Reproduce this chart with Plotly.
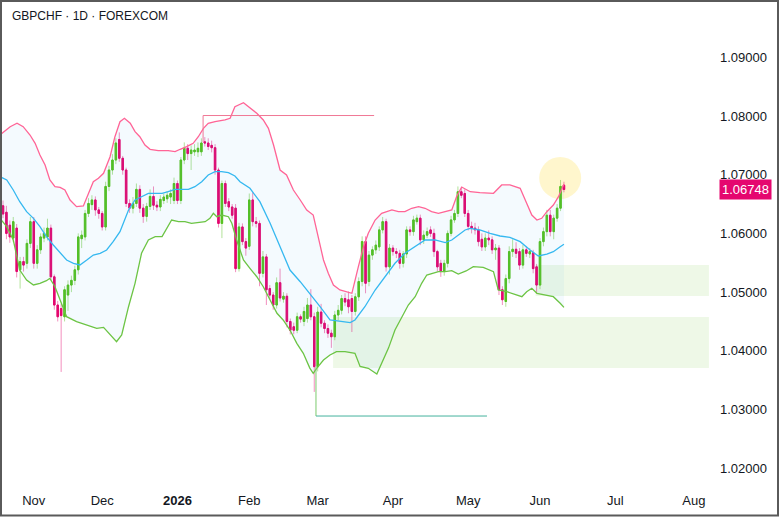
import pandas as pd
import plotly.graph_objects as go

# ---------------- data (daily OHLC, GBPCHF) ----------------
open_ = [
    1.0647, 1.0636, 1.0614, 1.0592, 1.0609, 1.0538, 1.0552, 1.0549, 1.0583, 1.0620,
    1.0549, 1.0572, 1.0592, 1.0594, 1.0609, 1.0526, 1.0478, 1.0472, 1.0458, 1.0495,
    1.0512, 1.0520, 1.0538, 1.0591, 1.0594, 1.0634, 1.0649, 1.0657, 1.0640, 1.0634,
    1.0611, 1.0680, 1.0708, 1.0725, 1.0760, 1.0728, 1.0708, 1.0651, 1.0643, 1.0651,
    1.0675, 1.0643, 1.0629, 1.0646, 1.0663, 1.0648, 1.0645, 1.0656, 1.0659, 1.0662,
    1.0656, 1.0685, 1.0656, 1.0725, 1.0745, 1.0736, 1.0739, 1.0739, 1.0739, 1.0756,
    1.0754, 1.0750, 1.0746, 1.0708, 1.0617, 1.0685, 1.0654, 1.0645, 1.0643, 1.0540,
    1.0611, 1.0586, 1.0578, 1.0657, 1.0620, 1.0617, 1.0532, 1.0560, 1.0506, 1.0495,
    1.0478, 1.0516, 1.0488, 1.0493, 1.0450, 1.0441, 1.0435, 1.0458, 1.0450, 1.0455,
    1.0478, 1.0458, 1.0373, 1.0466, 1.0447, 1.0438, 1.0430, 1.0424, 1.0461, 1.0469,
    1.0489, 1.0487, 1.0489, 1.0467, 1.0492, 1.0518, 1.0586, 1.0518, 1.0563, 1.0572,
    1.0577, 1.0606, 1.0620, 1.0543, 1.0575, 1.0569, 1.0566, 1.0549, 1.0565, 1.0606,
    1.0603, 1.0620, 1.0626, 1.0589, 1.0597, 1.0606, 1.0600, 1.0569, 1.0549, 1.0535,
    1.0549, 1.0600, 1.0623, 1.0634, 1.0671, 1.0668, 1.0634, 1.0612, 1.0609, 1.0606,
    1.0590, 1.0577, 1.0592, 1.0589, 1.0572, 1.0575, 1.0504, 1.0484, 1.0523, 1.0569,
    1.0573, 1.0569, 1.0546, 1.0572, 1.0565, 1.0567, 1.0543, 1.0512, 1.0586, 1.0603,
    1.0631, 1.0603, 1.0626, 1.0643, 1.0682,
]
high = [
    1.0656, 1.0647, 1.0622, 1.0628, 1.0616, 1.0560, 1.0560, 1.0590, 1.0628, 1.0628,
    1.0580, 1.0600, 1.0610, 1.0625, 1.0615, 1.0530, 1.0485, 1.0480, 1.0510, 1.0520,
    1.0528, 1.0545, 1.0600, 1.0605, 1.0640, 1.0660, 1.0665, 1.0663, 1.0645, 1.0638,
    1.0688, 1.0715, 1.0735, 1.0762, 1.0772, 1.0732, 1.0712, 1.0658, 1.0662, 1.0685,
    1.0682, 1.0650, 1.0652, 1.0675, 1.0680, 1.0655, 1.0665, 1.0668, 1.0672, 1.0675,
    1.0695, 1.0690, 1.0730, 1.0755, 1.0752, 1.0750, 1.0752, 1.0755, 1.0762, 1.0764,
    1.0762, 1.0758, 1.0752, 1.0712, 1.0690, 1.0690, 1.0660, 1.0650, 1.0650, 1.0618,
    1.0617, 1.0592, 1.0668, 1.0670, 1.0628, 1.0622, 1.0570, 1.0565, 1.0512, 1.0500,
    1.0525, 1.0540, 1.0500, 1.0498, 1.0455, 1.0448, 1.0465, 1.0462, 1.0475, 1.0490,
    1.0505, 1.0465, 1.0475, 1.0480, 1.0452, 1.0445, 1.0436, 1.0468, 1.0478, 1.0495,
    1.0498, 1.0501, 1.0495, 1.0498, 1.0525, 1.0595, 1.0595, 1.0570, 1.0578, 1.0588,
    1.0612, 1.0628, 1.0625, 1.0582, 1.0580, 1.0575, 1.0572, 1.0570, 1.0612, 1.0612,
    1.0630, 1.0632, 1.0632, 1.0605, 1.0610, 1.0612, 1.0608, 1.0572, 1.0555, 1.0555,
    1.0605, 1.0630, 1.0640, 1.0680, 1.0678, 1.0675, 1.0640, 1.0620, 1.0618, 1.0612,
    1.0600, 1.0600, 1.0605, 1.0595, 1.0582, 1.0580, 1.0510, 1.0530, 1.0578, 1.0590,
    1.0585, 1.0575, 1.0580, 1.0578, 1.0575, 1.0572, 1.0548, 1.0592, 1.0610, 1.0640,
    1.0640, 1.0632, 1.0650, 1.0691, 1.0688,
]
low = [
    1.0626, 1.0590, 1.0584, 1.0585, 1.0525, 1.0506, 1.0535, 1.0540, 1.0575, 1.0540,
    1.0540, 1.0565, 1.0585, 1.0588, 1.0520, 1.0470, 1.0450, 1.0364, 1.0450, 1.0468,
    1.0500, 1.0512, 1.0530, 1.0575, 1.0588, 1.0628, 1.0640, 1.0630, 1.0625, 1.0605,
    1.0605, 1.0672, 1.0700, 1.0718, 1.0722, 1.0700, 1.0645, 1.0635, 1.0634, 1.0645,
    1.0635, 1.0618, 1.0620, 1.0640, 1.0640, 1.0638, 1.0638, 1.0650, 1.0652, 1.0650,
    1.0650, 1.0650, 1.0650, 1.0718, 1.0725, 1.0708, 1.0732, 1.0730, 1.0732, 1.0748,
    1.0742, 1.0738, 1.0700, 1.0610, 1.0592, 1.0645, 1.0638, 1.0625, 1.0534, 1.0535,
    1.0580, 1.0562, 1.0572, 1.0612, 1.0610, 1.0510, 1.0525, 1.0478, 1.0488, 1.0470,
    1.0472, 1.0484, 1.0482, 1.0440, 1.0428, 1.0428, 1.0430, 1.0448, 1.0442, 1.0448,
    1.0452, 1.0330, 1.0365, 1.0440, 1.0430, 1.0422, 1.0405, 1.0418, 1.0452, 1.0462,
    1.0476, 1.0464, 1.0432, 1.0460, 1.0485, 1.0510, 1.0498, 1.0510, 1.0555, 1.0565,
    1.0570, 1.0600, 1.0535, 1.0530, 1.0562, 1.0558, 1.0540, 1.0542, 1.0558, 1.0596,
    1.0596, 1.0615, 1.0580, 1.0582, 1.0592, 1.0594, 1.0560, 1.0535, 1.0526, 1.0528,
    1.0542, 1.0595, 1.0618, 1.0628, 1.0660, 1.0628, 1.0605, 1.0600, 1.0598, 1.0578,
    1.0570, 1.0570, 1.0580, 1.0565, 1.0555, 1.0495, 1.0478, 1.0475, 1.0515, 1.0560,
    1.0558, 1.0538, 1.0540, 1.0560, 1.0558, 1.0532, 1.0498, 1.0505, 1.0578, 1.0595,
    1.0595, 1.0590, 1.0620, 1.0638, 1.0670,
]
close = [
    1.0633, 1.0600, 1.0594, 1.0620, 1.0535, 1.0552, 1.0546, 1.0583, 1.0620, 1.0549,
    1.0572, 1.0594, 1.0600, 1.0609, 1.0526, 1.0478, 1.0458, 1.0460, 1.0504, 1.0512,
    1.0520, 1.0538, 1.0594, 1.0597, 1.0634, 1.0651, 1.0657, 1.0640, 1.0634, 1.0611,
    1.0680, 1.0708, 1.0725, 1.0754, 1.0728, 1.0708, 1.0651, 1.0643, 1.0651, 1.0675,
    1.0643, 1.0629, 1.0646, 1.0663, 1.0648, 1.0645, 1.0658, 1.0662, 1.0665, 1.0668,
    1.0685, 1.0656, 1.0725, 1.0745, 1.0736, 1.0742, 1.0742, 1.0745, 1.0754, 1.0754,
    1.0748, 1.0746, 1.0708, 1.0617, 1.0685, 1.0651, 1.0645, 1.0631, 1.0540, 1.0611,
    1.0586, 1.0575, 1.0657, 1.0620, 1.0617, 1.0532, 1.0560, 1.0504, 1.0495, 1.0478,
    1.0516, 1.0490, 1.0493, 1.0450, 1.0435, 1.0435, 1.0458, 1.0454, 1.0467, 1.0478,
    1.0458, 1.0373, 1.0466, 1.0447, 1.0438, 1.0430, 1.0424, 1.0461, 1.0469, 1.0489,
    1.0483, 1.0475, 1.0467, 1.0492, 1.0518, 1.0586, 1.0515, 1.0563, 1.0572, 1.0580,
    1.0606, 1.0620, 1.0543, 1.0575, 1.0569, 1.0566, 1.0549, 1.0565, 1.0606, 1.0603,
    1.0623, 1.0626, 1.0589, 1.0597, 1.0603, 1.0600, 1.0569, 1.0543, 1.0535, 1.0549,
    1.0600, 1.0623, 1.0634, 1.0671, 1.0665, 1.0634, 1.0612, 1.0609, 1.0606, 1.0586,
    1.0577, 1.0592, 1.0589, 1.0572, 1.0575, 1.0504, 1.0487, 1.0523, 1.0569, 1.0573,
    1.0566, 1.0546, 1.0572, 1.0566, 1.0569, 1.0540, 1.0512, 1.0586, 1.0603, 1.0631,
    1.0603, 1.0626, 1.0643, 1.0680, 1.06748,
]

# Bollinger bands, sampled (bar number, price)
upper_bar = [-0.9, 2.1, 4.1, 5.9, 7.9, 9.4, 10.8, 12.3, 13.7, 15.2, 16.7, 18.1, 19.6, 21.5, 23.5,
             24.9, 26.4, 27.9, 29.4, 31.3, 32.7, 34.2, 35.5, 37.2, 38.6, 40.0, 41.5, 43.0, 45.4,
             48.3, 50.3, 51.8, 53.7, 55.6, 57.1, 58.6, 60.0, 62.0, 64.9, 66.4, 67.8, 70.3, 72.2,
             74.2, 76.1, 77.6, 79.1, 81.0, 82.9, 84.9, 86.9, 88.8, 90.7, 92.2, 93.7, 95.1, 96.6,
             98.5, 100.0, 102.0, 103.9, 105.4, 106.8, 108.8, 110.7, 113.7, 115.6, 117.5, 119.5,
             121.5, 123.4, 125.3, 127.3, 129.3, 131.2, 132.6, 134.1, 136.6, 139.4, 143.4, 145.8,
             148.2, 151.2, 153.1, 154.6, 156.1, 157.5, 159.0, 160.9, 162.4, 163.4, 164.0]
upper_val = [1.07676, 1.07818, 1.07876, 1.07818, 1.07676, 1.07535, 1.07336, 1.07165, 1.06910,
             1.06796, 1.06785, 1.06739, 1.06569, 1.06455, 1.06467, 1.06683, 1.06881, 1.06939,
             1.07024, 1.07307, 1.07642, 1.07903, 1.07961, 1.07876, 1.07733, 1.07647, 1.07506,
             1.07433, 1.07409, 1.07409, 1.07392, 1.07433, 1.07477, 1.07535, 1.07647, 1.07790,
             1.07876, 1.07903, 1.07932, 1.07961, 1.08158, 1.08227, 1.08131, 1.08046, 1.07932,
             1.07790, 1.07506, 1.07080, 1.06995, 1.06739, 1.06569, 1.06399, 1.06313, 1.05944,
             1.05547, 1.05320, 1.05121, 1.05036, 1.05007, 1.04980, 1.05433, 1.05773, 1.06002,
             1.06228, 1.06342, 1.06399, 1.06370, 1.06370, 1.06428, 1.06455, 1.06428, 1.06370,
             1.06342, 1.06370, 1.06399, 1.06625, 1.06790, 1.06710, 1.06693, 1.06683, 1.06825,
             1.06825, 1.06768, 1.06513, 1.06313, 1.06228, 1.06257, 1.06370, 1.06484, 1.06625,
             1.06768, 1.06840]
middle_bar = [-0.9, 1.1, 3.0, 4.9, 6.9, 8.9, 10.8, 12.7, 14.7, 16.7, 18.6, 20.6, 22.5, 24.5, 26.4,
              28.4, 30.3, 32.2, 34.2, 36.7, 38.6, 40.5, 42.5, 44.5, 46.5, 48.3, 50.3, 52.3, 54.2,
              56.1, 58.1, 60.0, 62.0, 63.9, 65.9, 67.8, 69.3, 72.2, 75.1, 78.1, 81.0, 83.9, 86.9,
              89.7, 92.7, 95.6, 98.5, 101.5, 102.9, 105.8, 108.8, 111.7, 114.6, 117.5, 120.5,
              123.4, 126.3, 129.3, 131.2, 133.1, 135.1, 136.6, 139.4, 142.4, 145.3, 148.2, 151.2,
              154.1, 156.5, 159.0, 160.9, 162.9, 164.0]
middle_val = [1.06966, 1.06910, 1.06739, 1.06540, 1.06370, 1.06257, 1.06114, 1.05944, 1.05802,
              1.05661, 1.05547, 1.05491, 1.05462, 1.05547, 1.05632, 1.05661, 1.05717, 1.05859,
              1.06029, 1.06399, 1.06569, 1.06625, 1.06683, 1.06683, 1.06683, 1.06710, 1.06751,
              1.06751, 1.06751, 1.06796, 1.06881, 1.06995, 1.07051, 1.07051, 1.07034, 1.06978,
              1.06881, 1.06768, 1.06540, 1.06172, 1.05773, 1.05376, 1.05177, 1.04980, 1.04751,
              1.04525, 1.04496, 1.04479, 1.04525, 1.04751, 1.05036, 1.05262, 1.05491, 1.05661,
              1.05773, 1.05888, 1.05888, 1.05842, 1.05888, 1.05973, 1.06058, 1.06087, 1.06058,
              1.06002, 1.05956, 1.05934, 1.05859, 1.05717, 1.05615, 1.05649, 1.05688, 1.05773,
              1.05815]
lower_bar = [-0.9, 1.1, 3.0, 4.9, 6.9, 8.9, 10.8, 12.7, 13.7, 15.2, 16.7, 18.6, 21.5, 24.5, 27.4,
             29.4, 31.3, 33.2, 34.7, 36.7, 38.6, 40.5, 42.5, 44.5, 46.5, 48.3, 49.3, 51.3, 53.2,
             55.1, 57.1, 59.1, 60.5, 61.5, 62.5, 63.9, 65.9, 66.9, 68.3, 70.3, 72.2, 74.2, 76.1,
             78.1, 80.1, 81.9, 83.9, 85.9, 87.8, 89.7, 90.7, 91.7, 93.7, 95.6, 97.5, 100.0, 102.9,
             104.4, 106.8, 109.3, 110.7, 112.7, 114.6, 116.6, 118.5, 120.5, 122.4, 123.9, 125.3,
             127.3, 129.3, 131.2, 133.1, 135.4, 137.5, 140.4, 143.4, 144.8, 147.3, 150.2, 151.7,
             153.1, 154.6, 156.1, 159.0, 160.9, 162.9, 164.0]
lower_val = [1.06257, 1.06114, 1.05888, 1.05376, 1.05206, 1.05121, 1.05150, 1.05194, 1.05235,
             1.05092, 1.04865, 1.04581, 1.04496, 1.04440, 1.04383, 1.04400, 1.04269, 1.04155,
             1.04269, 1.04751, 1.05150, 1.05661, 1.05888, 1.05944, 1.05944, 1.06114, 1.06228,
             1.06199, 1.06199, 1.06172, 1.06182, 1.06199, 1.06257, 1.06342, 1.06284, 1.06313,
             1.06284, 1.06172, 1.05888, 1.05547, 1.05405, 1.05262, 1.05092, 1.04865, 1.04639,
             1.04525, 1.04354, 1.04128, 1.03957, 1.03705, 1.03617, 1.03702, 1.03843, 1.03928,
             1.03985, 1.03985, 1.03957, 1.03734, 1.03702, 1.03603, 1.03787, 1.04046, 1.04354,
             1.04581, 1.04780, 1.04922, 1.05150, 1.05291, 1.05320, 1.05348, 1.05348, 1.05365,
             1.05308, 1.05360, 1.05433, 1.05422, 1.05348, 1.05036, 1.05007, 1.04951, 1.04922,
             1.05007, 1.05065, 1.04980, 1.04951, 1.04922, 1.04809, 1.04740]

# drawings (bar number / price levels)
zone_start = [155.7, 96.5]
zone_top = [1.05462, 1.04576]
zone_bottom = [1.04934, 1.03707]
zone_end = 206.4
res_bar = [58.5, 108.5]
res_level = 1.08008
res_from = 1.0755
sup_bar = [91.5, 141.5]
sup_level = 1.02889
sup_from = 1.03724
mark_bar, mark_price = 162.9, 1.06944

price_ticks = [1.02, 1.03, 1.04, 1.05, 1.06, 1.07, 1.08, 1.09]
last_price = close[-1]
month_names = {11: "Nov", 12: "Dec", 1: "<b>2026</b>", 2: "Feb", 3: "Mar",
               4: "Apr", 5: "May", 6: "Jun", 7: "Jul", 8: "Aug"}
holidays = ["2025-12-25", "2026-01-01"]

# ---------------- trading calendar ----------------
cal = pd.bdate_range("2025-10-21", "2026-08-31")
cal = cal[~cal.isin(pd.to_datetime(holidays))]
n = len(close)
bars = list(range(n))

tick_pos, tick_txt, seen = [], [], set()
for k, d in enumerate(cal):
    key = (d.year, d.month)
    if key in seen:
        continue
    seen.add(key)
    if k == 0:
        continue
    tick_pos.append(k)
    tick_txt.append(month_names[d.month])

body_hi = [max(o, c) for o, c in zip(open_, close)]
body_lo = [min(o, c) for o, c in zip(open_, close)]

UP, DN = "#56C11F", "#E4076F"
UP_W, DN_W = "rgba(86,193,31,0.45)", "rgba(228,7,111,0.45)"
FONT = "Liberation Sans, Arial, sans-serif"
TXT = "#131722"

fig = go.Figure()
fig.add_trace(go.Scatter(
    x=upper_bar + lower_bar[::-1], y=upper_val + lower_val[::-1],
    fill="toself", fillcolor="rgba(33,150,243,0.05)", line=dict(width=0),
    mode="lines", hoverinfo="skip", showlegend=False))
fig.add_trace(go.Scatter(x=upper_bar, y=upper_val, mode="lines",
                         line=dict(color="#FF6496", width=1.3), showlegend=False))
fig.add_trace(go.Scatter(x=middle_bar, y=middle_val, mode="lines",
                         line=dict(color="#35B8F0", width=1.3), showlegend=False))
fig.add_trace(go.Scatter(x=lower_bar, y=lower_val, mode="lines",
                         line=dict(color="#6CC444", width=1.3), showlegend=False))
# wicks
fig.add_trace(go.Candlestick(
    x=bars, open=open_, high=high, low=low, close=close,
    increasing=dict(line=dict(color=UP_W, width=1), fillcolor=UP_W),
    decreasing=dict(line=dict(color=DN_W, width=1), fillcolor=DN_W),
    whiskerwidth=0, showlegend=False, hoverinfo="skip"))
# bodies
fig.add_trace(go.Candlestick(
    x=bars, open=open_, high=body_hi, low=body_lo, close=close,
    increasing=dict(line=dict(color=UP, width=1), fillcolor=UP),
    decreasing=dict(line=dict(color=DN, width=1), fillcolor=DN),
    whiskerwidth=0, showlegend=False))

shapes = []
for x0, t, b in zip(zone_start, zone_top, zone_bottom):
    shapes.append(dict(type="rect", xref="x", yref="y", x0=x0, x1=zone_end, y0=b, y1=t,
                       fillcolor="rgba(120,200,70,0.13)", line=dict(width=0), layer="below"))
shapes.append(dict(type="circle", xref="x", yref="y", xsizemode="pixel", ysizemode="pixel",
                   xanchor=mark_bar, yanchor=mark_price, x0=-21, x1=21, y0=-21, y1=21,
                   fillcolor="rgba(255,225,90,0.3)", line=dict(width=0), layer="below"))
shapes.append(dict(type="line", xref="x", yref="y", x0=res_bar[0], x1=res_bar[0],
                   y0=res_from, y1=res_level, line=dict(color="#F07896", width=1)))
shapes.append(dict(type="line", xref="x", yref="y", x0=res_bar[0], x1=res_bar[1],
                   y0=res_level, y1=res_level, line=dict(color="#F07896", width=1)))
shapes.append(dict(type="line", xref="x", yref="y", x0=sup_bar[0], x1=sup_bar[0],
                   y0=sup_from, y1=sup_level, line=dict(color="#7CCB6E", width=1)))
shapes.append(dict(type="line", xref="x", yref="y", x0=sup_bar[0], x1=sup_bar[1],
                   y0=sup_level, y1=sup_level, line=dict(color="#45B39D", width=1)))
# outer frame
shapes.append(dict(type="rect", xref="paper", yref="paper", x0=1 / 710, x1=778 / 710,
                   y0=1 - 515.5 / 487, y1=1 - 1 / 487, line=dict(color="#5a5a5a", width=2)))

fig.update_layout(
    width=780, height=517, margin=dict(l=0, r=70, t=0, b=30),
    paper_bgcolor="white", plot_bgcolor="white", showlegend=False,
    font=dict(family=FONT, size=13, color=TXT),
    boxgap=0.38, shapes=shapes,
    xaxis=dict(range=[-0.877, 206.7], tickvals=tick_pos, ticktext=tick_txt,
               showgrid=False, zeroline=False, showline=False, ticks="",
               ticklabelstandoff=4,
               rangeslider=dict(visible=False), tickfont=dict(size=13, color=TXT)),
    yaxis=dict(side="right", range=[1.0168, 1.09976], tickvals=price_ticks,
               ticktext=[f"{v:.5f}" for v in price_ticks], showgrid=False,
               zeroline=False, showline=False, ticks="", ticklabelstandoff=9,
               tickfont=dict(size=13, color=TXT)),
    annotations=[
        dict(xref="paper", yref="paper", x=10 / 710, y=1 - 16 / 487, xanchor="left",
             yanchor="middle", text="GBPCHF · 1D · FOREXCOM", showarrow=False,
             font=dict(size=12, color=TXT)),
        dict(xref="paper", yref="y", x=719 / 710, y=last_price, xanchor="left",
             yanchor="middle", text=f"{last_price:.5f}", showarrow=False,
             bgcolor="#E5076F", borderpad=2, font=dict(size=13, color="white")),
    ],
)

fig.write_html("out.html")
